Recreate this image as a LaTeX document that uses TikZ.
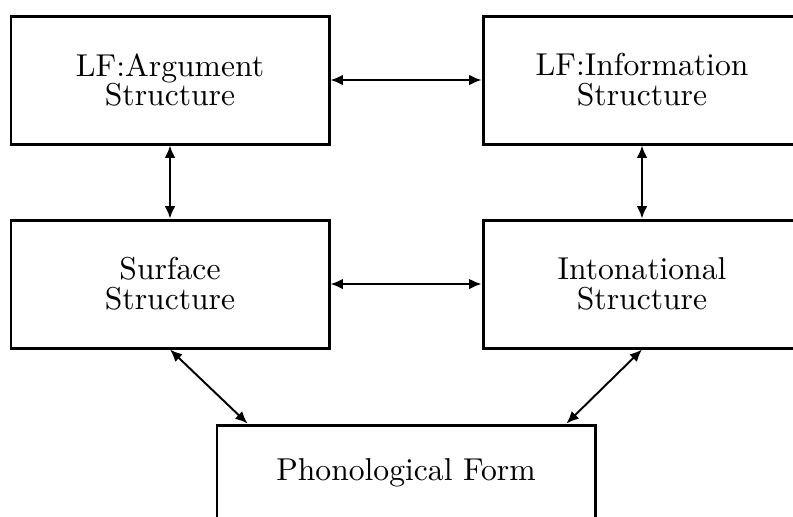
\documentclass[tikz,border=0pt]{standalone}
\usepackage{fontspec}
\setmainfont{lmroman10-regular.otf}
\usetikzlibrary{arrows.meta}
\begin{document}
\begin{tikzpicture}[
  box/.style={shape=rectangle,draw=black,line width=1.7pt,minimum width=6.36cm,minimum height=2.56cm,
    align=center,inner sep=0pt,font=\fontsize{18}{17}\selectfont},
  link/.style={{Latex[length=7pt,width=6pt]}-{Latex[length=7pt,width=6pt]},line width=1.1pt}]
  \clip (0,0) rectangle (15.86,-10.32);
  \node[box] (lfarg) at (3.40,-1.60) {LF:Argument\\Structure};
  \node[box] (lfinfo) at (12.84,-1.60) {LF:Information\\Structure};
  \node[box] (surf) at (3.40,-5.68) {Surface\\Structure};
  \node[box] (inton) at (12.84,-5.68) {Intonational\\Structure};
  \node[box,minimum width=7.56cm,minimum height=1.92cm] (phon) at (8.12,-9.46) {Phonological Form};
  \path[link] (lfarg) edge (lfinfo);
  \path[link] (lfarg) edge (surf);
  \path[link] (lfinfo) edge (inton);
  \path[link] (surf) edge (inton);
  \path[link] (surf.south) edge ([xshift=0.64cm]phon.north west);
  \path[link] (inton.south) edge ([xshift=-0.60cm]phon.north east);
\end{tikzpicture}
\end{document}
